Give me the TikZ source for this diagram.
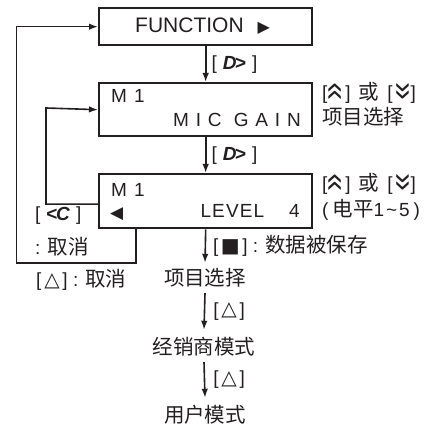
\documentclass[tikz,border=0pt]{standalone}
\usepackage{fontspec}
\setmainfont{Liberation Sans}
\newfontfamily\cjk{Noto Sans CJK SC}
\newfontfamily\sym{DejaVu Sans}
\usetikzlibrary{arrows.meta,calc}
\definecolor{ink}{HTML}{231F20}
\tikzset{
  box/.style={draw=ink,line width=2.4pt,anchor=north west,inner sep=0pt},
  arr/.style={draw=ink,line width=1.6pt,-{Latex[length=9pt,width=6.5pt]}},
  lbl/.style={text=ink,inner sep=0pt,font=\fontsize{19}{21}\selectfont},
  cn/.style={text=ink,inner sep=0pt,text height=17.5pt,text depth=2.5pt,font=\fontsize{20.5}{22}\selectfont\cjk},
}
\newcommand{\keyD}{[\hspace{6pt}\textbf{\textit{D}}\kern-1.5pt\textbf{>}\hspace{6pt}]}
\newcommand{\keyC}{[\hspace{6pt}\textbf{<}\kern-1.5pt\textbf{\textit{C}}\hspace{6pt}]}
\newcommand{\chev}[1]{\makebox[18pt]{\raisebox{1pt}{\rotatebox[origin=c]{#1}{\fontsize{32}{32}\selectfont»}}}}
\newcommand{\upk}{[\chev{90}]}
\newcommand{\dnk}{[\chev{-90}]}
\newcommand{\tri}{[\makebox[21pt]{\raisebox{0.5pt}{\sym\bfseries\fontsize{20}{20}\selectfont △}}]}
\newcommand{\zh}[1]{{\cjk\fontsize{20.5}{22}\selectfont #1}}
\begin{document}
\begin{tikzpicture}[x=1pt,y=-1pt]
\useasboundingbox (0,0) rectangle (432,427);
% boxes
\node[box,minimum width=213pt,minimum height=37pt] (b1) at (98,7) {};
\node[box,minimum width=213pt,minimum height=53pt] (b2) at (98,82) {};
\node[box,minimum width=213pt,minimum height=54pt] (b3) at (98,173) {};
% box texts
\node[lbl,anchor=base west] (t1) at (135,33) {\fontsize{21}{21}\selectfont FUNCTION\hspace{14pt}{\sym\fontsize{16}{16}\selectfont ▶}};
\node[lbl,anchor=base west] (t2a) at (111,103) {M\hspace{7pt}1};
\node[lbl,anchor=base east] (t2b) at (301,127) {\addfontfeature{LetterSpace=36}MIC GAIN};
\node[lbl,anchor=base west] (t3a) at (111,197) {M\hspace{7pt}1};
\node[lbl,anchor=base west] (t3c) at (110,218.5) {{\sym\fontsize{17}{17}\selectfont ◀}};
\node[lbl,anchor=base east] (t3b) at (300,218) {\addfontfeature{LetterSpace=6}LEVEL\hspace{25pt}4};
% main arrows
\draw[arr] (b2.north |- b1.south) -- (b2.north) node[lbl,midway,anchor=west,xshift=5pt] (k1) {\keyD};
\draw[arr] (b2.south) -- (b3.north) node[lbl,midway,anchor=west,xshift=5pt] (k2) {\keyD};
\node[cn] (s1) at (205,278) {项目选择};
\draw[arr] (b3.south) -- ([yshift=5pt]s1.north) node[midway,anchor=west,xshift=7pt,lbl] (k3) {[\makebox[24pt]{\sym\fontsize{20}{20}\selectfont ■}] : \zh{数据被保存}};
\node[cn] (s2) at (204,347) {经销商模式};
\draw[arr] ([yshift=-5pt]s1.south) -- ([yshift=7pt]s2.north) node[lbl,midway,anchor=west,xshift=8pt] (k4) {\tri};
\node[cn] (s3) at (205,415) {用户模式};
\draw[arr] ([yshift=-5pt]s2.south) -- ([yshift=7pt]s3.north) node[lbl,midway,anchor=west,xshift=8pt] (k5) {\tri};
% right side labels
\node[lbl,anchor=west] (r1) at (322,93) {\upk\hspace{8pt}\zh{或}\hspace{8pt}\dnk};
\node[cn,anchor=west] (r2) at (322,117) {项目选择};
\node[lbl,anchor=west] (r3) at (322,184) {\upk\hspace{8pt}\zh{或}\hspace{8pt}\dnk};
\node[lbl,anchor=west] (r4) at (322,210) {(\hspace{4pt}\zh{电平}1\kern2pt\textasciitilde\kern2pt5\hspace{4pt})};
% loops
\coordinate (oc) at (16.5,263);
\coordinate (ic) at (46,108);
\draw[arr] ([xshift=38pt]b3.south west) |- (oc) |- (b1.west);
\draw[arr] ([yshift=-3pt]b3.west) -| (ic) -- (b2.west);
% left labels
\node[lbl,anchor=west] (l1) at (35,216) {\keyC};
\node[lbl,anchor=west] (l2) at (35,247) {: \zh{取消}};
\node[lbl,anchor=west] (l3) at (36,280) {\tri\ : \zh{取消}};
\end{tikzpicture}
\end{document}
